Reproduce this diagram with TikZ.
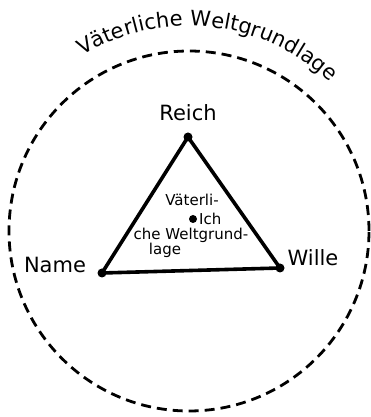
\documentclass[tikz,border=0pt]{standalone}
\usepackage{fontspec}
\setmainfont{DejaVu Sans}
\usetikzlibrary{decorations.text}
\begin{document}
\begin{tikzpicture}[x=1pt,y=1pt,
  dot/.style={circle,fill=black,inner sep=0pt,minimum size=9pt},
  lbl/.style={font=\fontsize{21}{24}\selectfont},
  inner/.style={font=\fontsize{15}{17}\selectfont,inner sep=0pt}]
\useasboundingbox (0,0) rectangle (371,417);
\coordinate (C) at (189,186);
% dashed outer circle
\draw[line width=2.8pt,dash pattern=on 10pt off 6pt] (C) circle[radius=180];
% arc text
\path[decorate,decoration={text along path,
  text={|\fontsize{21}{24}\selectfont|Väterliche Weltgrundlage},
  text align=center}]
  (C) ++(124:205) arc[start angle=124,end angle=44,radius=205];
% triangle vertices
\node[dot] (T) at (188,280) {};
\node[dot] (L) at (102,144) {};
\node[dot] (R) at (280,149) {};
\draw[line width=3.6pt,line join=round] (T.center) -- (L.center) -- (R.center) -- cycle;
% centre dot
\node[dot,minimum size=8pt] (I) at (193,198) {};
% labels
\node[lbl] (reich) at (188,304) {Reich};
\node[lbl] (name) at (55,152) {Name};
\node[lbl] (wille) at (313,159) {Wille};
\node[inner] (v1) at (192,217) {Väterli-};
\node[inner,anchor=west] (ich) at (199,198) {Ich};
\node[inner] (v2) at (191,182) {che Weltgrund-};
\node[inner] (v3) at (165,167) {lage};
\end{tikzpicture}
\end{document}
